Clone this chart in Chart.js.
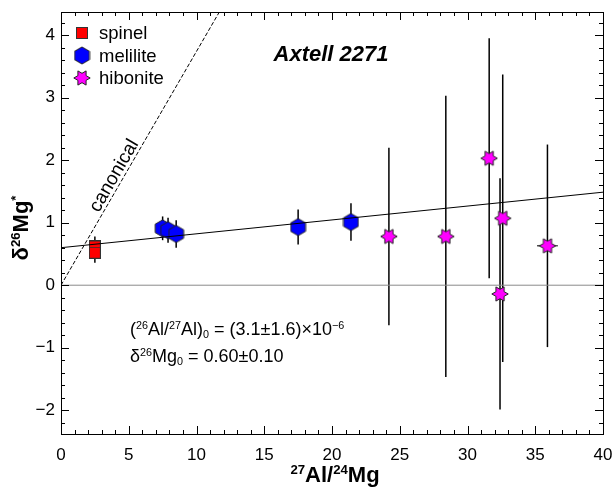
<!DOCTYPE html>
<html>
<head>
<meta charset="utf-8">
<script src="https://cdn.jsdelivr.net/npm/chart.js@4/dist/chart.umd.min.js"></script>
<style>
  html, body { margin: 0; padding: 0; background: #fff; }
  #wrap { width: 614px; height: 488px; }
</style>
</head>
<body>
<div id="wrap"><canvas id="chart" width="614" height="488"></canvas></div>
<script>
// ===== Data =====
const spinelX = [2.5, 2.5];
const spinelY = [0.62, 0.52];
const spinelYErr = [0.16, 0.16];

const meliliteX = [7.5, 7.9, 8.5, 17.5, 21.4];
const meliliteY = [0.91, 0.88, 0.82, 0.93, 1.01];
const meliliteYErr = [0.19, 0.20, 0.22, 0.28, 0.30];

const hiboniteX = [24.2, 28.4, 31.6, 32.4, 32.6, 35.9];
const hiboniteY = [0.78, 0.78, 2.03, -0.14, 1.07, 0.63];
const hiboniteYErr = [1.42, 2.25, 1.92, 1.85, 2.30, 1.62];
const hiboniteXErr = [0.55, 0.45, 0.40, 0.45, 0.40, 0.77];

const fitIntercept = 0.60;
const fitSlope = 0.0222;
const canonicalSlope = 0.374;

const xTicks = [0, 5, 10, 15, 20, 25, 30, 35, 40];
const yTicks = [-2, -1, 0, 1, 2, 3, 4];

const FONT = '"Liberation Sans", Arial, Helvetica, sans-serif';

// ===== Marker images =====
function makeCanvas(w, h, draw) {
  const c = document.createElement("canvas");
  c.width = w; c.height = h;
  draw(c.getContext("2d"), w, h);
  return c;
}

const squareImg = makeCanvas(12, 12, (g) => {
  g.fillStyle = "#ff0000";
  g.strokeStyle = "#333";
  g.lineWidth = 1;
  g.fillRect(0.5, 0.5, 11, 11);
  g.strokeRect(0.5, 0.5, 11, 11);
});

const hexImg = makeCanvas(17, 19, (g, w, h) => {
  const R = 8.5, cx = w / 2, cy = h / 2;
  g.beginPath();
  for (let i = 0; i < 6; i++) {
    const a = Math.PI / 2 + i * Math.PI / 3;
    const px = cx + R * Math.cos(a), py = cy - R * Math.sin(a);
    i ? g.lineTo(px, py) : g.moveTo(px, py);
  }
  g.closePath();
  g.fillStyle = "#0000ff";
  g.fill();
  g.strokeStyle = "#222";
  g.lineWidth = 1;
  g.stroke();
});

const starImg = makeCanvas(18, 18, (g, w, h) => {
  const R = 8.2, r = 4.7, cx = w / 2, cy = h / 2;
  g.beginPath();
  for (let i = 0; i < 12; i++) {
    const a = i * Math.PI / 6;
    const rad = i % 2 ? r : R;
    const px = cx + rad * Math.cos(a), py = cy - rad * Math.sin(a);
    i ? g.lineTo(px, py) : g.moveTo(px, py);
  }
  g.closePath();
  g.fillStyle = "#ff00ff";
  g.fill();
  g.strokeStyle = "#222";
  g.lineWidth = 1;
  g.stroke();
});

const pts = (xs, ys) => xs.map((x, i) => ({ x, y: ys[i] }));

// ===== Rich text helper (super/subscripts) =====
const SCRIPT = 0.6;
function drawRich(ctx, x, y, parts, size, weight, align) {
  const measure = () => {
    let w = 0;
    parts.forEach(p => {
      const s = p.s ? size * SCRIPT : size;
      ctx.font = `${weight} ${s}px ${FONT}`;
      w += ctx.measureText(p.t).width;
    });
    return w;
  };
  let cx = x;
  if (align === "center") cx = x - measure() / 2;
  ctx.textBaseline = "alphabetic";
  ctx.textAlign = "left";
  parts.forEach(p => {
    const s = p.s ? size * SCRIPT : size;
    ctx.font = `${weight} ${s}px ${FONT}`;
    let dy = 0;
    if (p.s === "sup") dy = -size * 0.36;
    if (p.s === "sub") dy = size * 0.18;
    ctx.fillText(p.t, cx, y + dy);
    cx += ctx.measureText(p.t).width;
  });
}

// ===== Plugin: error bars, frame, ticks, texts =====
const decorPlugin = {
  id: "decor",
  beforeDatasetsDraw(chart) {
    const { ctx, scales: { x, y } } = chart;
    ctx.save();
    ctx.strokeStyle = "#000";
    ctx.lineWidth = 1.5;
    const vbar = (xs, ys, es) => xs.forEach((v, i) => {
      const px = x.getPixelForValue(v);
      ctx.beginPath();
      ctx.moveTo(px, y.getPixelForValue(ys[i] + es[i]));
      ctx.lineTo(px, y.getPixelForValue(ys[i] - es[i]));
      ctx.stroke();
    });
    vbar(spinelX, spinelY, spinelYErr);
    vbar(meliliteX, meliliteY, meliliteYErr);
    vbar(hiboniteX, hiboniteY, hiboniteYErr);
    ctx.lineWidth = 1;
    hiboniteX.forEach((v, i) => {
      const py = y.getPixelForValue(hiboniteY[i]);
      ctx.beginPath();
      ctx.moveTo(x.getPixelForValue(v - hiboniteXErr[i]), py);
      ctx.lineTo(x.getPixelForValue(v + hiboniteXErr[i]), py);
      ctx.stroke();
    });
    ctx.restore();
  },
  afterDraw(chart) {
    const { ctx, chartArea: a, scales: { x, y } } = chart;
    ctx.save();
    ctx.strokeStyle = "#000";
    ctx.lineWidth = 1;
    ctx.strokeRect(a.left + 0.5, a.top + 0.5, a.right - a.left, a.bottom - a.top);

    // inward ticks on all four sides
    ctx.beginPath();
    for (let v = 0; v <= 40; v++) {
      const len = v % 5 === 0 ? 8 : 4;
      const px = Math.round(x.getPixelForValue(v)) + 0.5;
      ctx.moveTo(px, a.bottom); ctx.lineTo(px, a.bottom - len);
      ctx.moveTo(px, a.top); ctx.lineTo(px, a.top + len);
    }
    for (let k = -12; k <= 22; k++) {
      const v = k / 5;
      if (v < y.min || v > y.max) continue;
      const len = k % 5 === 0 ? 8 : 4;
      const py = Math.round(y.getPixelForValue(v)) + 0.5;
      ctx.moveTo(a.left, py); ctx.lineTo(a.left + len, py);
      ctx.moveTo(a.right, py); ctx.lineTo(a.right - len, py);
    }
    ctx.stroke();

    ctx.fillStyle = "#000";
    // title
    ctx.font = `italic bold 22px ${FONT}`;
    ctx.textAlign = "center";
    ctx.textBaseline = "middle";
    ctx.fillText("Axtell 2271", 331, 55);

    // legend
    const legend = [[squareImg, "spinel"], [hexImg, "melilite"], [starImg, "hibonite"]];
    legend.forEach(([img, label], i) => {
      const cy = 33 + i * 22.5;
      ctx.drawImage(img, 82 - img.width / 2, cy - img.height / 2);
      ctx.font = `18.5px ${FONT}`;
      ctx.textAlign = "left";
      ctx.textBaseline = "middle";
      ctx.fillText(label, 99, cy + 1);
    });

    // canonical label
    const p0x = x.getPixelForValue(0), p0y = y.getPixelForValue(0);
    const p1x = x.getPixelForValue(10), p1y = y.getPixelForValue(10 * canonicalSlope);
    const ang = Math.atan2(p1y - p0y, p1x - p0x);
    ctx.save();
    ctx.translate(x.getPixelForValue(3.93), y.getPixelForValue(1.75));
    ctx.rotate(ang);
    ctx.font = `19px ${FONT}`;
    ctx.textAlign = "center";
    ctx.textBaseline = "middle";
    ctx.fillText("canonical", 0, 0);
    ctx.restore();

    // fit annotation
    drawRich(ctx, 130, 335, [
      { t: "(" }, { t: "26", s: "sup" }, { t: "Al/" }, { t: "27", s: "sup" }, { t: "Al)" },
      { t: "0", s: "sub" }, { t: " = (3.1±1.6)×10" }, { t: "−6", s: "sup" }
    ], 18, "normal");
    drawRich(ctx, 130, 362, [
      { t: "δ" }, { t: "26", s: "sup" }, { t: "Mg" }, { t: "0", s: "sub" }, { t: " = 0.60±0.10" }
    ], 18, "normal");

    // axis titles
    drawRich(ctx, (a.left + a.right) / 2 + 3, 482, [
      { t: "27", s: "sup" }, { t: "Al/" }, { t: "24", s: "sup" }, { t: "Mg" }
    ], 22, "bold", "center");
    ctx.save();
    ctx.translate(28, (a.top + a.bottom) / 2 + 5);
    ctx.rotate(-Math.PI / 2);
    drawRich(ctx, 0, 0, [
      { t: "δ" }, { t: "26", s: "sup" }, { t: "Mg" }, { t: "*", s: "sup" }
    ], 22, "bold", "center");
    ctx.restore();
    ctx.restore();
  }
};

// ===== Chart =====
new Chart(document.getElementById("chart"), {
  type: "scatter",
  data: {
    datasets: [
      {
        type: "line", label: "zero", data: [{ x: 0, y: 0 }, { x: 40, y: 0 }],
        borderColor: "#8a8a8a", borderWidth: 1, pointRadius: 0, fill: false
      },
      {
        type: "line", label: "fit",
        data: [{ x: 0, y: fitIntercept }, { x: 40, y: fitIntercept + 40 * fitSlope }],
        borderColor: "#000", borderWidth: 1, pointRadius: 0, fill: false
      },
      {
        type: "line", label: "canonical",
        data: [{ x: 0, y: 0 }, { x: 12, y: 12 * canonicalSlope }],
        borderColor: "#000", borderWidth: 1, borderDash: [4, 2], pointRadius: 0, fill: false
      },
      { label: "spinel", data: pts(spinelX, spinelY), pointStyle: squareImg },
      { label: "melilite", data: pts(meliliteX, meliliteY), pointStyle: hexImg },
      { label: "hibonite", data: pts(hiboniteX, hiboniteY), pointStyle: starImg }
    ]
  },
  options: {
    responsive: false,
    animation: false,
    layout: { padding: { top: 12, right: 11, left: 0, bottom: 0 } },
    plugins: { legend: { display: false }, tooltip: { enabled: false } },
    scales: {
      x: {
        type: "linear", min: 0, max: 40,
        afterFit: (s) => { s.height = 54; s.paddingLeft = 0; s.paddingRight = 0; },
        afterBuildTicks: (s) => { s.ticks = xTicks.map(v => ({ value: v })); },
        grid: { display: false, drawTicks: false },
        border: { display: false },
        ticks: { color: "#000", padding: 11, font: { family: FONT, size: 17 }, maxRotation: 0 }
      },
      y: {
        type: "linear", min: -2.38, max: 4.37,
        afterFit: (s) => { s.width = 61; s.paddingTop = 0; s.paddingBottom = 0; },
        afterBuildTicks: (s) => { s.ticks = yTicks.map(v => ({ value: v })); },
        grid: { display: false, drawTicks: false },
        border: { display: false },
        ticks: {
          color: "#000", padding: 6, font: { family: FONT, size: 17 },
          callback: (v) => (v < 0 ? "−" + Math.abs(v) : String(v))
        }
      }
    }
  },
  plugins: [decorPlugin]
});
</script>
</body>
</html>
